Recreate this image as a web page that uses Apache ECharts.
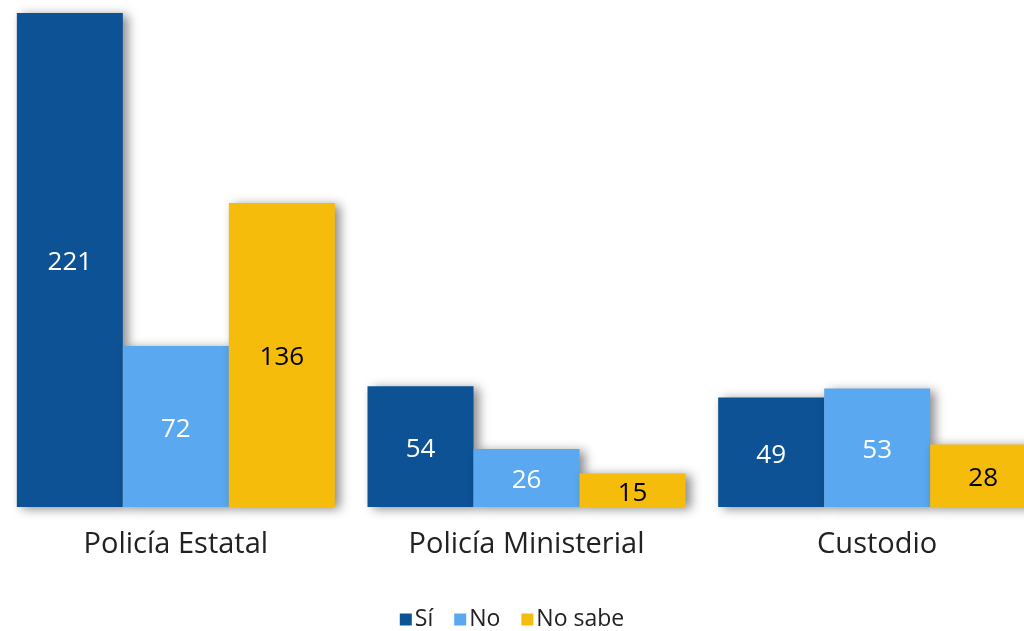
<!DOCTYPE html>
<html><head><meta charset="utf-8">
<script src="https://cdn.jsdelivr.net/npm/echarts@6/dist/echarts.min.js"></script>
<style>html,body{margin:0;padding:0;background:#fff}#c{width:1024px;height:631px}</style>
</head><body><div id="c"></div>
<script>
const categories = ['Policía Estatal', 'Policía Ministerial', 'Custodio'];
const seriesNames = ['Sí', 'No', 'No sabe'];
const valuesSi = [221, 54, 49];
const valuesNo = [72, 26, 53];
const valuesNoSabe = [136, 15, 28];
const colors = ['#0d5294', '#5aa8ef', '#f5bc0c'];
const labelColors = ['#ffffff', '#ffffff', '#000000'];
const FONT = '"Open Sans", Lato, sans-serif';

const chart = echarts.init(document.getElementById('c'));
const allValues = [valuesSi, valuesNo, valuesNoSabe];
chart.setOption({
  animation: false,
  textStyle: { fontFamily: FONT },
  grid: { left: 0.5, width: 1052, top: 13, height: 494, containLabel: false, outerBoundsMode: 'none' },
  legend: {
    top: 603, left: 'center', itemWidth: 12, itemHeight: 12, itemGap: 21,
    icon: 'rect',
    textStyle: { fontSize: 23, color: '#222', fontFamily: FONT, padding: [0, 0, 0, -2] },
    data: seriesNames
  },
  xAxis: {
    type: 'category', data: categories,
    axisLine: { show: false }, axisTick: { show: false },
    axisLabel: { fontSize: 29, color: '#222', margin: 23, fontFamily: FONT }
  },
  yAxis: { type: 'value', min: 0, max: 221, show: false, splitLine: { show: false } },
  series: seriesNames.map((n, i) => ({
    name: n, type: 'bar', data: allValues[i],
    barWidth: 106, barGap: '0%',
    itemStyle: {
      color: colors[i],
      shadowColor: 'rgba(0,0,0,0.45)', shadowBlur: 10, shadowOffsetX: 5, shadowOffsetY: 2
    },
    label: {
      show: true, position: 'inside', offset: [0, 3], fontSize: 26, color: labelColors[i], fontFamily: FONT
    }
  }))
});
</script></body></html>
